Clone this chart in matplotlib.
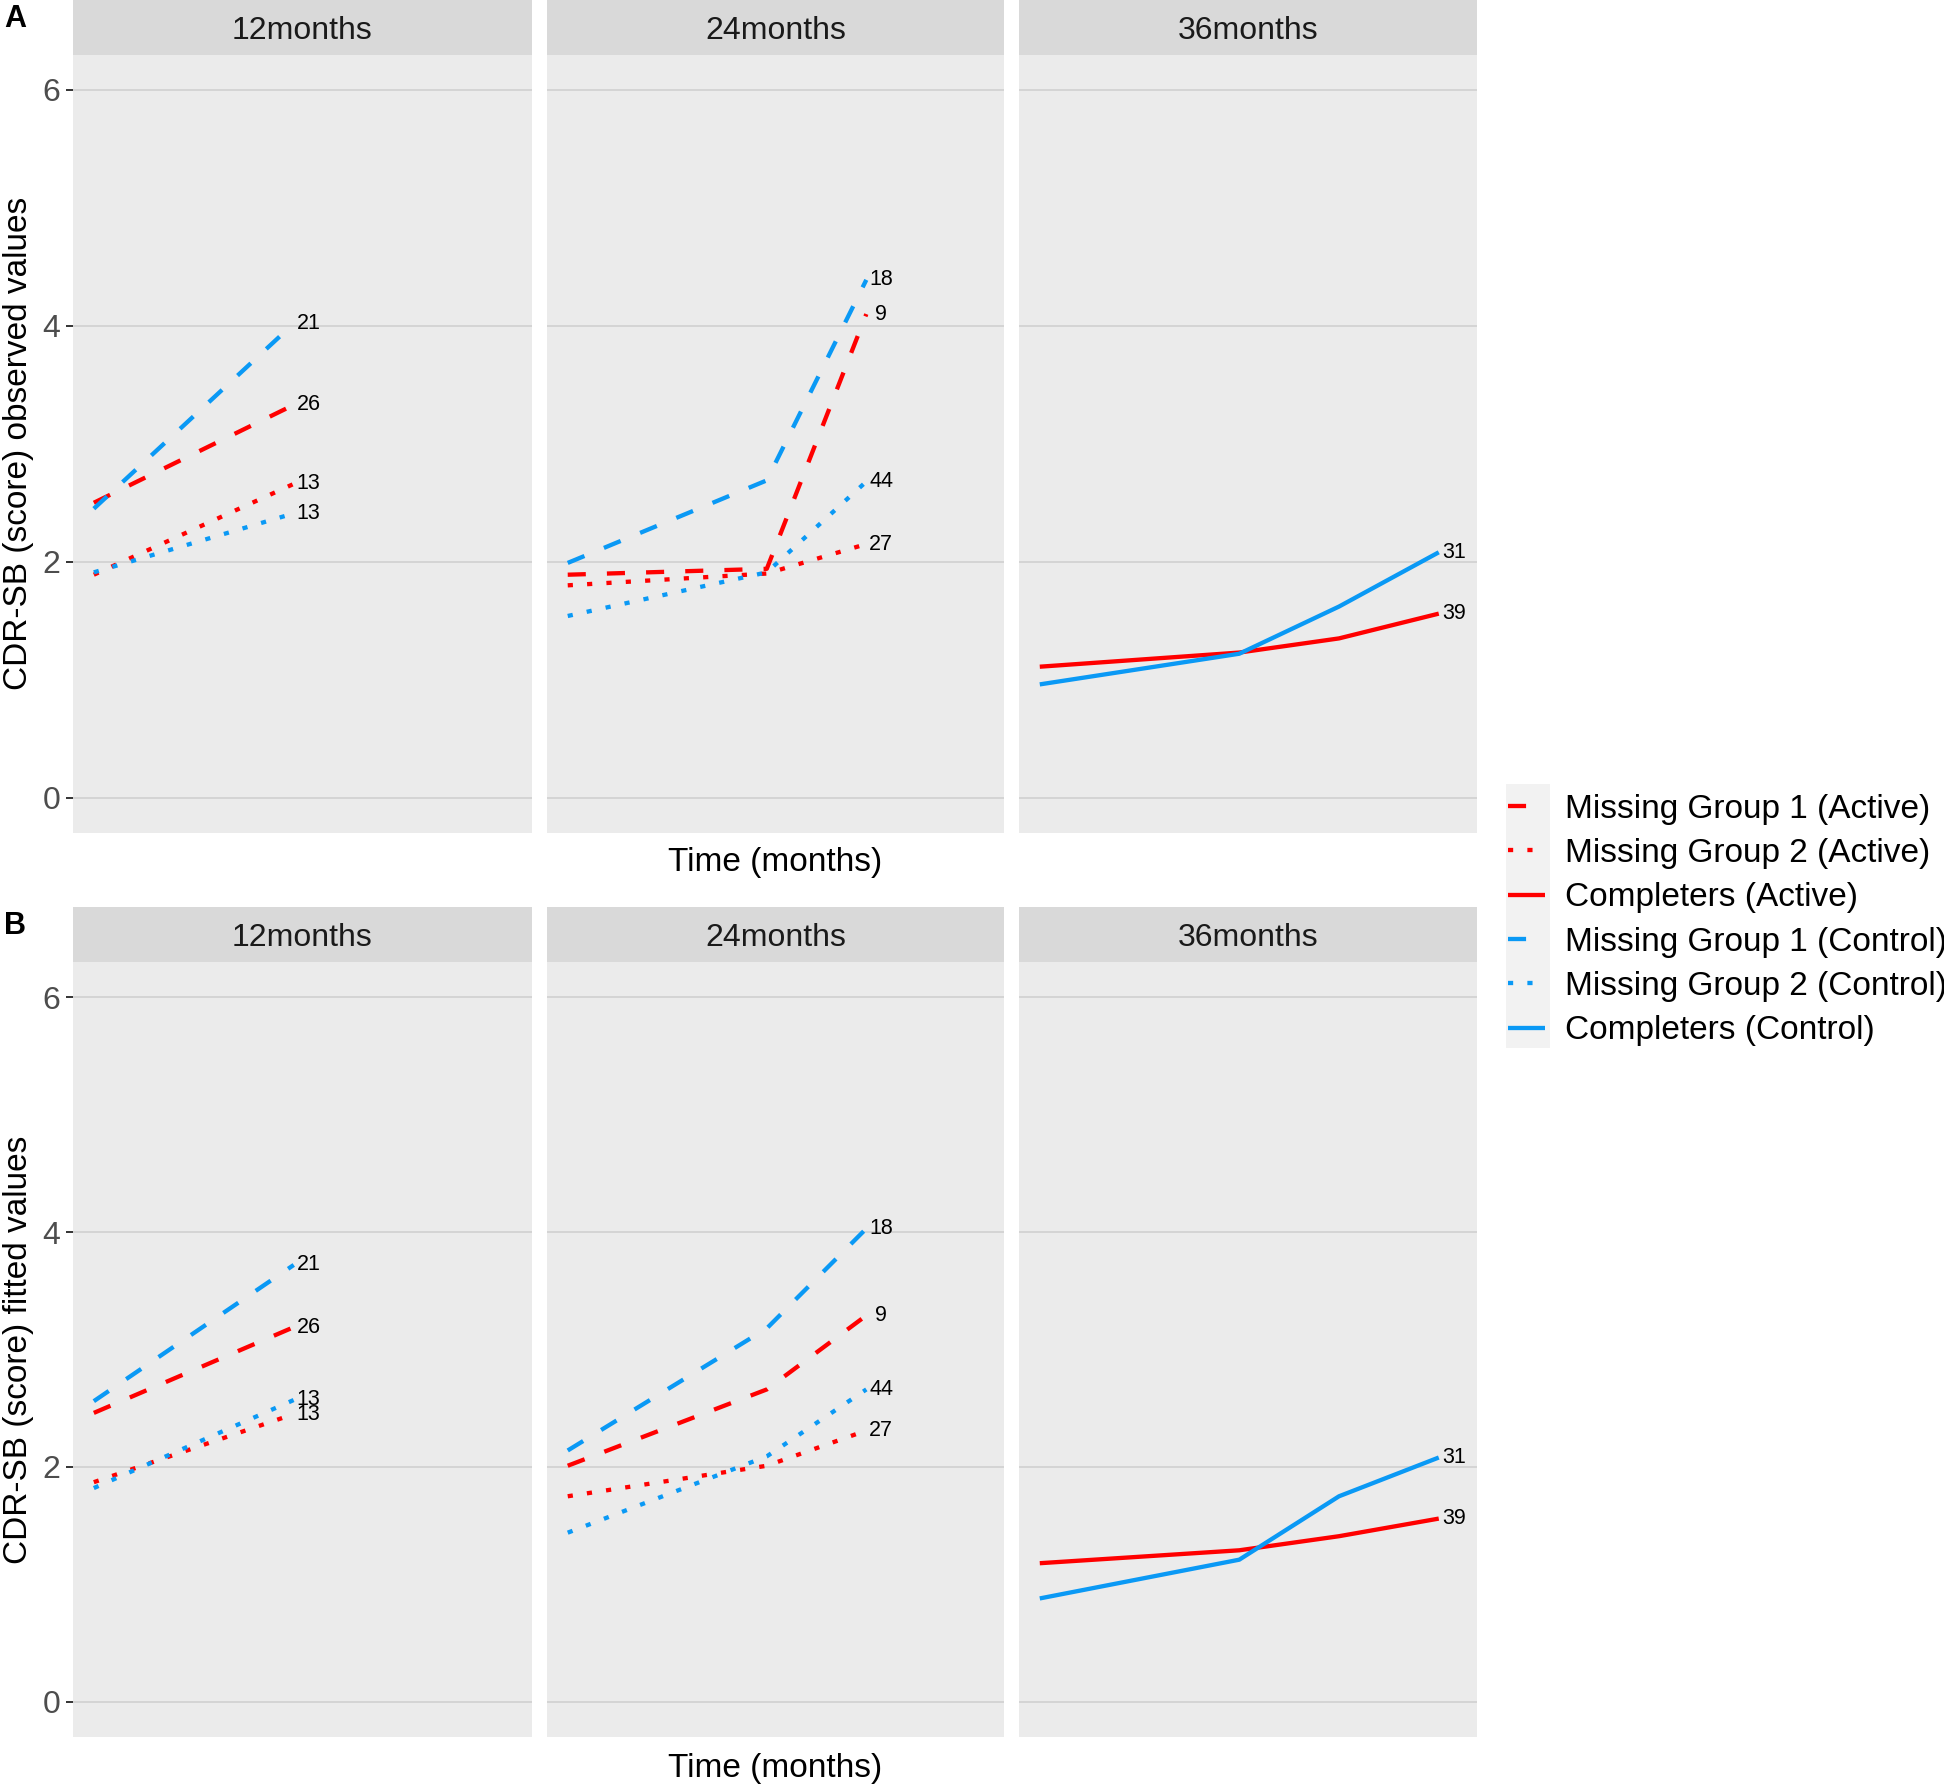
import numpy as np
import matplotlib.pyplot as plt
from matplotlib.lines import Line2D
from matplotlib.patches import Rectangle

plt.rcParams['font.family'] = ['Liberation Sans', 'DejaVu Sans']

W, H = 1944, 1789

panel_titles = ['12months', '24months', '36months']
legend_labels = ['Missing Group 1 (Active)', 'Missing Group 2 (Active)', 'Completers (Active)',
                 'Missing Group 1 (Control)', 'Missing Group 2 (Control)', 'Completers (Control)']

t12 = [0, 12]
t24 = [0, 12, 18]
t36 = [0, 12, 18, 24]

# panel A, observed values
obs12_mg1_act = [2.50, 3.33]
obs12_mg2_act = [1.89, 2.66]
obs12_mg1_ctl = [2.45, 4.02]
obs12_mg2_ctl = [1.91, 2.41]
obs24_mg1_act = [1.89, 1.94, 4.10]
obs24_mg2_act = [1.80, 1.90, 2.15]
obs24_mg1_ctl = [1.99, 2.69, 4.39]
obs24_mg2_ctl = [1.54, 1.91, 2.68]
obs36_comp_act = [1.11, 1.23, 1.35, 1.56]
obs36_comp_ctl = [0.96, 1.22, 1.62, 2.08]

# panel B, fitted values
fit12_mg1_act = [2.46, 3.19]
fit12_mg2_act = [1.87, 2.45]
fit12_mg1_ctl = [2.56, 3.72]
fit12_mg2_ctl = [1.82, 2.57]
fit24_mg1_act = [2.01, 2.66, 3.29]
fit24_mg2_act = [1.75, 2.01, 2.31]
fit24_mg1_ctl = [2.14, 3.18, 4.03]
fit24_mg2_ctl = [1.44, 2.09, 2.66]
fit36_comp_act = [1.18, 1.29, 1.41, 1.56]
fit36_comp_ctl = [0.88, 1.21, 1.75, 2.08]

# numbers of patients written at the line ends
n12 = [26, 13, 21, 13]   # mg1 act, mg2 act, mg1 ctl, mg2 ctl
n24 = [9, 27, 18, 44]
n36 = [39, 31]           # completers act, ctl

red = '#FF0000'
blue = '#0A99F5'
LW = 3.1
styles = [(red, [4.2, 4.9]), (red, [1.2, 3.3]), (red, None),
          (blue, [4.2, 4.9]), (blue, [1.2, 3.3]), (blue, None)]


def px_rect(x0, y0, x1, y1):
    return [x0 / W, 1 - y1 / H, (x1 - x0) / W, (y1 - y0) / H]


def line_kw(k):
    c, d = styles[k]
    kw = dict(color=c, lw=LW, solid_capstyle='butt', dash_capstyle='butt')
    if d is None:
        kw['linestyle'] = '-'
    else:
        kw['dashes'] = d
    return kw


cols = [(73, 532), (547, 1004), (1019, 1477)]

fig = plt.figure(figsize=(W / 100, H / 100), dpi=100)


def draw_row(strip_top, strip_bot, panel_bot, panels, ylab, letter, xlab_y):
    for j, (x0, x1) in enumerate(cols):
        ax = fig.add_axes(px_rect(x0, strip_bot, x1, panel_bot))
        ax.set_facecolor('#EBEBEB')
        for s in ax.spines.values():
            s.set_visible(False)
        ax.set_xlim(-1.25, 26.3)
        ax.set_ylim(-0.3, 6.3)
        ax.set_yticks([0, 2, 4, 6])
        ax.set_xticks([])
        ax.grid(axis='y', color='#D4D4D4', lw=1.4)
        ax.set_axisbelow(True)
        if j == 0:
            ax.tick_params(axis='y', length=4.8, width=1.4, color='#333333',
                           labelsize=23, labelcolor='#4D4D4D', pad=4.3)
        else:
            ax.tick_params(axis='y', left=False, labelleft=False)
        t, series, ns = panels[j]
        for (k, vals), n in zip(series, ns):
            ax.plot(t, vals, **line_kw(k))
            ax.text(t[-1] + 0.9, vals[-1], str(n), ha='center', va='center',
                    fontsize=15.5, color='black')

        sax = fig.add_axes(px_rect(x0, strip_top, x1, strip_bot))
        sax.set_facecolor('#D9D9D9')
        sax.set_xticks([])
        sax.set_yticks([])
        for s in sax.spines.values():
            s.set_visible(False)
        sax.text(0.5, 0.44, panel_titles[j], ha='center', va='center',
                 fontsize=23, color='#1A1A1A', transform=sax.transAxes)

    yc = (strip_bot + panel_bot) / 2
    fig.text(18.6 / W, 1 - yc / H, ylab, rotation=90, ha='center', va='center', fontsize=24)
    fig.text(775.5 / W, 1 - xlab_y / H, 'Time (months)', ha='center', va='center', fontsize=24)
    fig.text(4 / W, 1 - (strip_top + 18.6) / H, letter, ha='left', va='center',
             fontsize=22, fontweight='bold')


obs_panels = [
    (t12, [(0, obs12_mg1_act), (1, obs12_mg2_act), (3, obs12_mg1_ctl), (4, obs12_mg2_ctl)], n12),
    (t24, [(0, obs24_mg1_act), (1, obs24_mg2_act), (3, obs24_mg1_ctl), (4, obs24_mg2_ctl)], n24),
    (t36, [(2, obs36_comp_act), (5, obs36_comp_ctl)], n36),
]
fit_panels = [
    (t12, [(0, fit12_mg1_act), (1, fit12_mg2_act), (3, fit12_mg1_ctl), (4, fit12_mg2_ctl)], n12),
    (t24, [(0, fit24_mg1_act), (1, fit24_mg2_act), (3, fit24_mg1_ctl), (4, fit24_mg2_ctl)], n24),
    (t36, [(2, fit36_comp_act), (5, fit36_comp_ctl)], n36),
]

draw_row(0, 54.6, 833, obs_panels, 'CDR-SB (score) observed values', 'A', 862)
draw_row(907, 962, 1737, fit_panels, 'CDR-SB (score) fitted values', 'B', 1769)

# legend with grey key background like ggplot
handles = [Line2D([], [], **line_kw(k)) for k in range(6)]
fig.legend(handles, legend_labels, loc='center left', bbox_to_anchor=(1508 / W, 1 - 920 / H),
           frameon=False, fontsize=24, handlelength=1.1, handletextpad=0.6,
           labelspacing=0.40, borderpad=0, borderaxespad=0)
fig.add_artist(Rectangle((1506 / W, 1 - 1048 / H), 44 / W, 264 / H, transform=fig.transFigure,
                         facecolor='#F2F2F2', edgecolor='none', zorder=0.5))

fig.savefig('out.png', dpi=100)
